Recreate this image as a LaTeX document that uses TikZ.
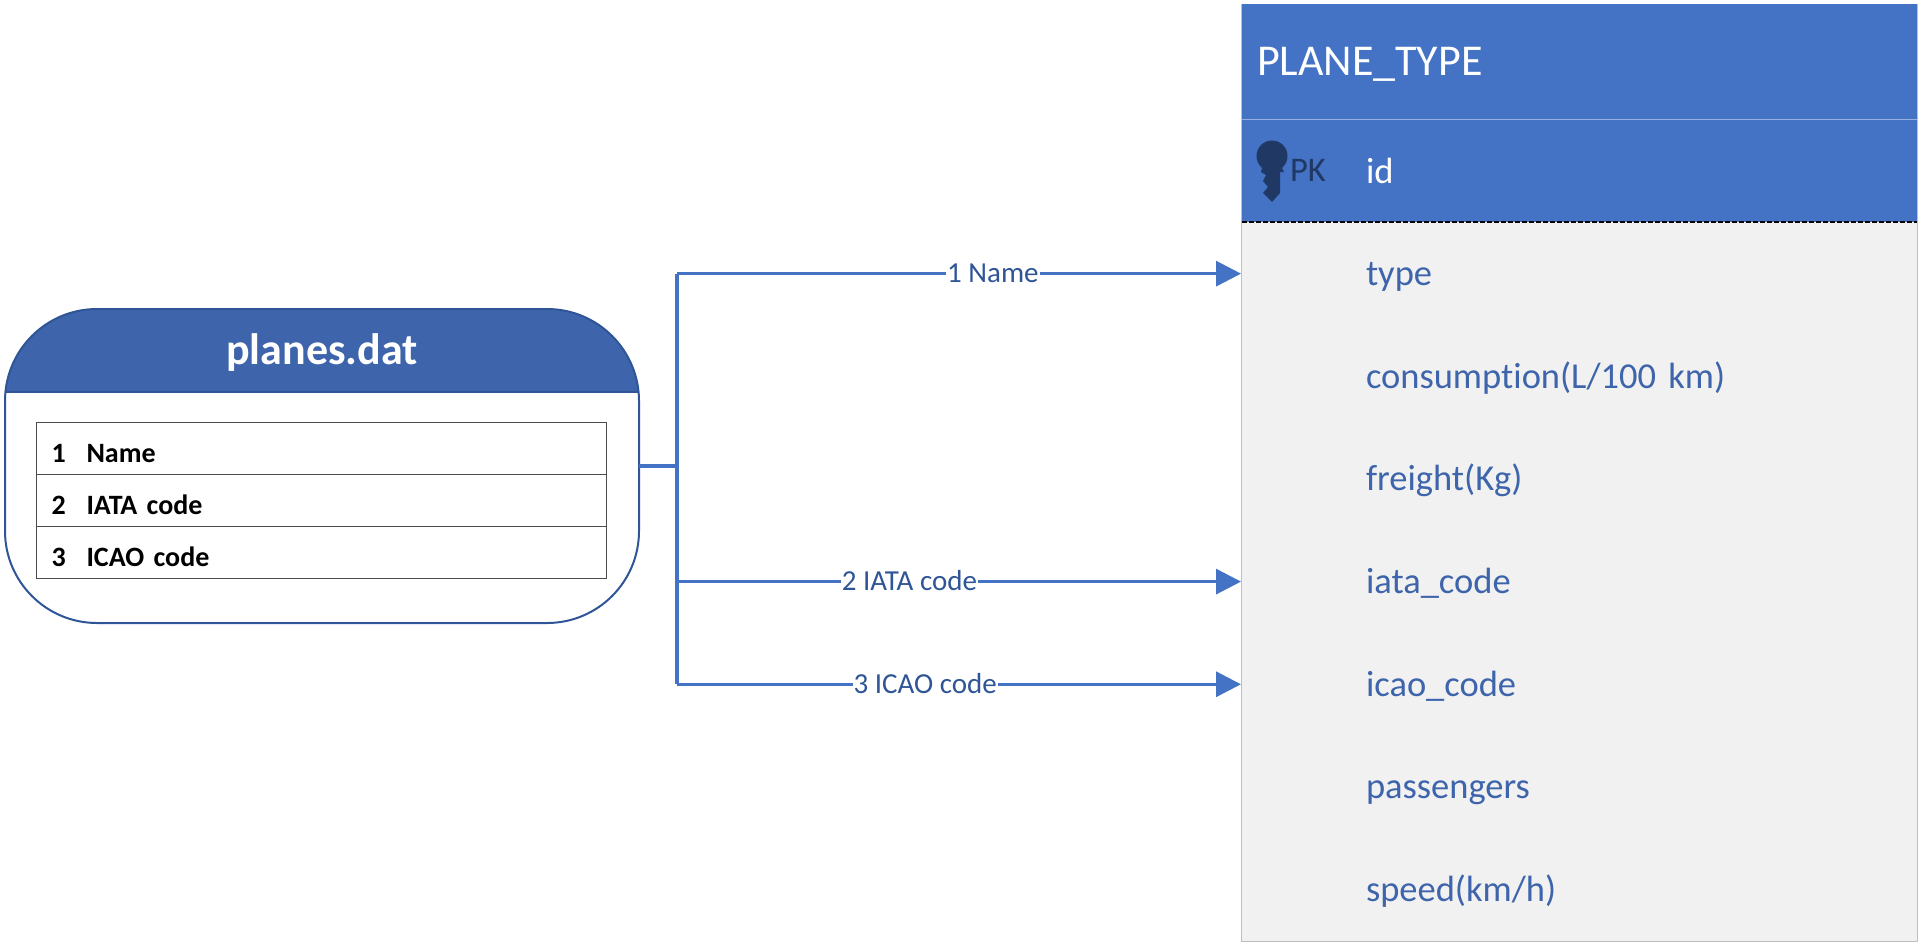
\documentclass[tikz,border=0pt]{standalone}
\usepackage{xcolor}
\usepackage{fontspec}
\setmainfont{Carlito}[Ligatures=NoCommon]
\usetikzlibrary{arrows.meta, positioning}
\definecolor{lineblue}{HTML}{4472C4}
\definecolor{fileblue}{HTML}{3E64AC}
\definecolor{darkblue}{HTML}{2F5597}
\definecolor{keyblue}{HTML}{1F3864}
\definecolor{tablegrey}{HTML}{F1F1F1}

\begin{document}
\begin{tikzpicture}[
    x=1pt, y=-1pt,
    outer sep=0pt,
    filebox/.style={draw=darkblue, line width=2pt, rounded corners=92pt, minimum width=634pt, minimum height=314pt, inner sep=0pt,
        path picture={\fill[fileblue, sharp corners] (path picture bounding box.north west) rectangle ([yshift=-83pt]path picture bounding box.north east);}},
    filerow/.style={draw=black!70, line width=0.8pt, minimum height=52pt, text width=540pt, inner xsep=15pt, inner ysep=0pt, text height=30pt, text depth=2pt, font=\fontsize{28}{32}\selectfont\bfseries},
    tablebody/.style={draw=black!25, line width=1pt, fill=tablegrey, minimum width=676pt, minimum height=937pt, inner sep=0pt},
    headrow/.style={fill=lineblue, minimum width=675pt, inner sep=0pt},
    field/.style={text width=500pt, minimum height=102.65pt, inner sep=0pt, text height=30pt, text depth=6pt, text=fileblue, font=\fontsize{36.5}{42}\selectfont},
    arrow/.style={-{Triangle[length=25pt, width=25pt]}, draw=lineblue, line width=3.2pt},
    wire/.style={draw=lineblue, line width=3.2pt},
    linklabel/.style={fill=white, inner xsep=1pt, inner ysep=0.5pt, text height=18pt, text depth=0pt, text=darkblue, font=\fontsize{29}{33}\selectfont}
]
    \useasboundingbox (0,0) rectangle (1922,945);

    % target table
    \node[tablebody] (plane) at (1579,472.5) {};
    \node[headrow, minimum height=115pt, text width=644pt, text height=32pt, text depth=5pt, text=white, font=\fontsize{44}{50}\selectfont] (header) at (1579,61.5) {PLANE\_TYPE};
    \node[headrow, minimum height=103pt, below=0pt of header] (pkrow) {};
    \node[field, text=white] (idf) at (1616,171) {id};
    \node[text=keyblue, inner sep=0pt, text height=30pt, text depth=8pt, font=\fontsize{34.5}{40}\selectfont] (pk) at (1308,170.5) {PK};
    \draw[white!45!lineblue, line width=1pt] (header.south west) -- (header.south east);
    \draw[black, dash pattern=on 5pt off 2pt, line width=2pt] (pkrow.south west) -- (pkrow.south east);

    % key
    \fill[keyblue] (1272,156) circle (15.5pt);
    \fill[keyblue] (1262,168) -- (1282,168) -- (1284,172) -- (1280,172) -- (1280,193) -- (1272,202) -- (1263,193) -- (1268,187) -- (1263,181) -- (1266,175) -- (1261,172) -- cycle;

    \node[field, below=0pt of idf] (typef) {type};
    \node[field, below=0pt of typef] (consf) {consumption(L/100 km)};
    \node[field, below=0pt of consf] (freightf) {freight(Kg)};
    \node[field, below=0pt of freightf] (iataf) {iata\_code};
    \node[field, below=0pt of iataf] (icaof) {icao\_code};
    \node[field, below=0pt of icaof] (passf) {passengers};
    \node[field, below=0pt of passf] (speedf) {speed(km/h)};

    % source file
    \node[filebox] (planes) at (322,466) {};
    \draw[darkblue, line width=2.5pt] ([yshift=-83pt]planes.north west) -- ([yshift=-83pt]planes.north east);
    \node[text=white, inner sep=0pt, font=\fontsize{44}{50}\selectfont\bfseries, anchor=base] (title) at (322,364) {planes.dat};
    \node[filerow] (name) at (321.5,448.5) {\makebox[35pt][l]{1}Name};
    \node[filerow, below=0pt of name] (iata) {\makebox[35pt][l]{2}IATA code};
    \node[filerow, below=0pt of iata] (icao) {\makebox[35pt][l]{3}ICAO code};

    % connectors
    \coordinate (bus) at (677,466);
    \draw[wire] (planes.east) -- (bus);
    \draw[wire] (bus |- typef) -- (bus |- icaof);
    \draw[arrow] (bus |- typef) -- node[linklabel, pos=0.56] (nlabel) {1 Name} (typef -| plane.west);
    \draw[arrow] (bus |- iataf) -- node[linklabel, pos=0.412] (ilabel) {2 IATA code} (iataf -| plane.west);
    \draw[arrow] (bus |- icaof) -- node[linklabel, pos=0.44] (clabel) {3 ICAO code} (icaof -| plane.west);
\end{tikzpicture}
\end{document}
